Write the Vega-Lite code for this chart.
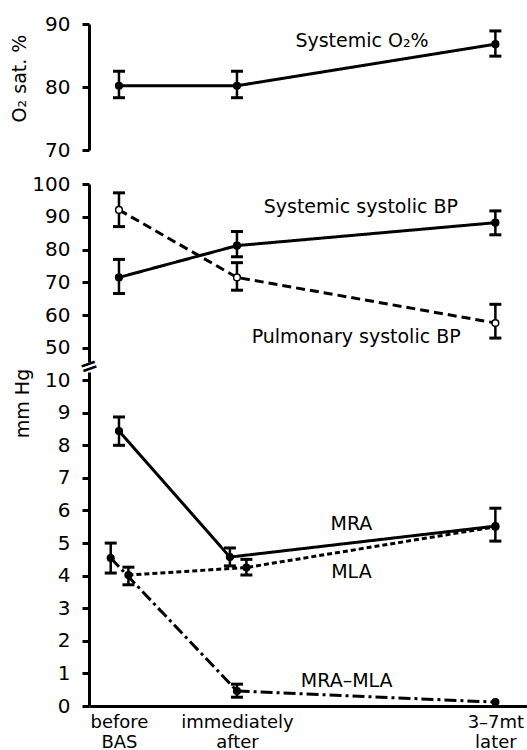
{
  "$schema": "https://vega.github.io/schema/vega-lite/v6.json",
  "padding": {"left": 10, "top": 14, "right": 0, "bottom": 0},
  "background": "white",
  "config": {
    "font": "DejaVu Sans",
    "view": {"stroke": null},
    "axis": {
      "domainColor": "black", "domainWidth": 3, "tickColor": "black", "tickWidth": 3, "tickSize": 7,
      "labelColor": "black", "labelFontSize": 20, "labelFont": "DejaVu Sans", "labelPadding": 12,
      "labelOverlap": false, "labelFlush": false,
      "titleColor": "black", "titleFontSize": 19, "titleFontWeight": "normal", "titleFont": "DejaVu Sans",
      "grid": false
    },
    "text": {"font": "DejaVu Sans", "fontSize": 19, "color": "black"}
  },
  "datasets": {
    "pts": [
      {"panel": "O2", "series": "Systemic O2", "t": 0, "value": 80.2, "lo": 78.3, "hi": 82.5},
      {"panel": "O2", "series": "Systemic O2", "t": 1, "value": 80.2, "lo": 78.3, "hi": 82.5},
      {"panel": "O2", "series": "Systemic O2", "t": 3.19, "value": 86.8, "lo": 84.9, "hi": 88.9},
      {"panel": "BP", "series": "Systemic systolic BP", "t": 0, "value": 71.5, "lo": 66.6, "hi": 77},
      {"panel": "BP", "series": "Systemic systolic BP", "t": 1, "value": 81.2, "lo": 77.8, "hi": 85.5},
      {"panel": "BP", "series": "Systemic systolic BP", "t": 3.19, "value": 88.2, "lo": 84.5, "hi": 91.8},
      {"panel": "BP", "series": "Pulmonary systolic BP", "t": 0, "value": 92.1, "lo": 87, "hi": 97.3},
      {"panel": "BP", "series": "Pulmonary systolic BP", "t": 1, "value": 71.5, "lo": 67.6, "hi": 76},
      {"panel": "BP", "series": "Pulmonary systolic BP", "t": 3.19, "value": 57.6, "lo": 53, "hi": 63.3},
      {"panel": "mmHg", "series": "MRA", "t": 0, "value": 8.44, "lo": 8.0, "hi": 8.87},
      {"panel": "mmHg", "series": "MRA", "t": 0.94, "value": 4.57, "lo": 4.3, "hi": 4.85},
      {"panel": "mmHg", "series": "MRA", "t": 3.19, "value": 5.52, "lo": 5.06, "hi": 6.07},
      {"panel": "mmHg", "series": "MLA", "t": 0.08, "value": 4.02, "lo": 3.72, "hi": 4.26},
      {"panel": "mmHg", "series": "MLA", "t": 1.08, "value": 4.25, "lo": 4.02, "hi": 4.5},
      {"panel": "mmHg", "series": "MLA", "t": 3.19, "value": 5.5, "lo": null, "hi": null},
      {"panel": "mmHg", "series": "MRA-MLA", "t": -0.07, "value": 4.54, "lo": 4.08, "hi": 5.0},
      {"panel": "mmHg", "series": "MRA-MLA", "t": 1.0, "value": 0.46, "lo": 0.27, "hi": 0.67},
      {"panel": "mmHg", "series": "MRA-MLA", "t": 3.19, "value": 0.12, "lo": null, "hi": null}
    ],
    "notes": [
      {"panel": "O2", "label": "Systemic O₂%", "t": 2.06, "value": 86.35},
      {"panel": "BP", "label": "Systemic systolic BP", "t": 2.05, "value": 91.2},
      {"panel": "BP", "label": "Pulmonary systolic BP", "t": 2.01, "value": 51.5},
      {"panel": "mmHg", "label": "MRA", "t": 1.97, "value": 5.4},
      {"panel": "mmHg", "label": "MLA", "t": 1.97, "value": 3.93},
      {"panel": "mmHg", "label": "MRA–MLA", "t": 1.93, "value": 0.58}
    ],
    "breaks": [
      {"label": "=", "t": -0.254, "value": 44.4}
    ]
  },
  "bounds": "flush",
  "spacing": 34,
  "vconcat": [
    {
      "width": 438, "height": 126,
      "layer": [
        {
          "data": {"name": "pts"},
          "transform": [{"filter": "datum.panel == 'O2'"}],
          "mark": {"type": "line", "strokeWidth": 3, "color": "black"},
          "encoding": {
            "x": {"field": "t", "type": "quantitative", "scale": {"domain": [-0.254, 3.458], "nice": false, "zero": false}, "axis": null},
            "y": {"field": "value", "type": "quantitative", "scale": {"domain": [70, 90], "nice": false, "zero": false},
                  "axis": {"values": [70, 80, 90], "title": "O₂ sat. %", "titleX": -70, "titleY": 54, "titleBaseline": "middle", "titleAngle": -90}},
            "strokeDash": {"field": "series", "type": "nominal", "legend": null,
              "scale": {"domain": ["Systemic O2", "Systemic systolic BP", "Pulmonary systolic BP", "MRA", "MLA", "MRA-MLA"],
                        "range": [[1, 0], [1, 0], [9, 5], [1, 0], [5, 3], [12, 4, 3, 4]]}}
          }
        },
        {
          "data": {"name": "pts"},
          "transform": [{"filter": "datum.panel == 'O2' && datum.lo != null"}],
          "mark": {"type": "rule", "strokeWidth": 2.5, "color": "black"},
          "encoding": {
            "x": {"field": "t", "type": "quantitative", "scale": {"domain": [-0.254, 3.458], "nice": false, "zero": false}, "axis": null},
            "y": {"field": "lo", "type": "quantitative",
                  "axis": {"values": [70, 80, 90], "title": "O₂ sat. %", "titleX": -70, "titleY": 54, "titleBaseline": "middle", "titleAngle": -90}},
            "y2": {"field": "hi"}
          }
        },
        {
          "data": {"name": "pts"},
          "transform": [{"filter": "datum.panel == 'O2' && datum.lo != null"}, {"fold": ["lo", "hi"], "as": ["end", "bar"]}],
          "mark": {"type": "tick", "orient": "horizontal", "size": 12, "thickness": 3, "color": "black", "opacity": 1},
          "encoding": {
            "x": {"field": "t", "type": "quantitative", "scale": {"domain": [-0.254, 3.458], "nice": false, "zero": false}, "axis": null},
            "y": {"field": "bar", "type": "quantitative",
                  "axis": {"values": [70, 80, 90], "title": "O₂ sat. %", "titleX": -70, "titleY": 54, "titleBaseline": "middle", "titleAngle": -90}}
          }
        },
        {
          "data": {"name": "pts"},
          "transform": [{"filter": "datum.panel == 'O2'"}],
          "mark": {"type": "point", "shape": "circle", "stroke": "black", "strokeWidth": 1.5, "opacity": 1, "fillOpacity": 1},
          "encoding": {
            "x": {"field": "t", "type": "quantitative", "scale": {"domain": [-0.254, 3.458], "nice": false, "zero": false}, "axis": null},
            "y": {"field": "value", "type": "quantitative",
                  "axis": {"values": [70, 80, 90], "title": "O₂ sat. %", "titleX": -70, "titleY": 54, "titleBaseline": "middle", "titleAngle": -90}},
            "fill": {"field": "series", "type": "nominal", "legend": null,
              "scale": {"domain": ["Systemic O2", "Systemic systolic BP", "Pulmonary systolic BP", "MRA", "MLA", "MRA-MLA"],
                        "range": ["black", "black", "white", "black", "black", "black"]}},
            "size": {"field": "series", "type": "nominal", "legend": null,
              "scale": {"domain": ["Systemic O2", "Systemic systolic BP", "Pulmonary systolic BP", "MRA", "MLA", "MRA-MLA"],
                        "range": [45, 45, 28, 45, 40, 40]}}
          }
        },
        {
          "data": {"name": "notes"},
          "transform": [{"filter": "datum.panel == 'O2'"}],
          "mark": {"type": "text", "align": "center", "baseline": "alphabetic"},
          "encoding": {
            "x": {"field": "t", "type": "quantitative", "scale": {"domain": [-0.254, 3.458], "nice": false, "zero": false}, "axis": null},
            "y": {"field": "value", "type": "quantitative",
                  "axis": {"values": [70, 80, 90], "title": "O₂ sat. %", "titleX": -70, "titleY": 54, "titleBaseline": "middle", "titleAngle": -90}},
            "text": {"field": "label"}
          }
        }
      ]
    },
    {
      "bounds": "flush",
      "spacing": 10,
      "vconcat": [
        {
          "width": 438, "height": 178,
          "layer": [
            {
              "data": {"name": "pts"},
              "transform": [{"filter": "datum.panel == 'BP'"}],
              "mark": {"type": "line", "strokeWidth": 3, "color": "black"},
              "encoding": {
                "x": {"field": "t", "type": "quantitative", "scale": {"domain": [-0.254, 3.458], "nice": false, "zero": false}, "axis": null},
                "y": {"field": "value", "type": "quantitative", "scale": {"domain": [45.7, 100], "nice": false, "zero": false},
                      "axis": {"values": [50, 60, 70, 80, 90, 100], "title": null}},
                "strokeDash": {"field": "series", "type": "nominal", "legend": null,
                  "scale": {"domain": ["Systemic O2", "Systemic systolic BP", "Pulmonary systolic BP", "MRA", "MLA", "MRA-MLA"],
                            "range": [[1, 0], [1, 0], [9, 5], [1, 0], [5, 3], [12, 4, 3, 4]]}}
              }
            },
            {
              "data": {"name": "pts"},
              "transform": [{"filter": "datum.panel == 'BP' && datum.lo != null"}],
              "mark": {"type": "rule", "strokeWidth": 2.5, "color": "black"},
              "encoding": {
                "x": {"field": "t", "type": "quantitative", "scale": {"domain": [-0.254, 3.458], "nice": false, "zero": false}, "axis": null},
                "y": {"field": "lo", "type": "quantitative", "axis": {"values": [50, 60, 70, 80, 90, 100], "title": null}},
                "y2": {"field": "hi"}
              }
            },
            {
              "data": {"name": "pts"},
              "transform": [{"filter": "datum.panel == 'BP' && datum.lo != null"}, {"fold": ["lo", "hi"], "as": ["end", "bar"]}],
              "mark": {"type": "tick", "orient": "horizontal", "size": 12, "thickness": 3, "color": "black", "opacity": 1},
              "encoding": {
                "x": {"field": "t", "type": "quantitative", "scale": {"domain": [-0.254, 3.458], "nice": false, "zero": false}, "axis": null},
                "y": {"field": "bar", "type": "quantitative", "axis": {"values": [50, 60, 70, 80, 90, 100], "title": null}}
              }
            },
            {
              "data": {"name": "pts"},
              "transform": [{"filter": "datum.panel == 'BP'"}],
              "mark": {"type": "point", "shape": "circle", "stroke": "black", "strokeWidth": 1.5, "opacity": 1, "fillOpacity": 1},
              "encoding": {
                "x": {"field": "t", "type": "quantitative", "scale": {"domain": [-0.254, 3.458], "nice": false, "zero": false}, "axis": null},
                "y": {"field": "value", "type": "quantitative", "axis": {"values": [50, 60, 70, 80, 90, 100], "title": null}},
                "fill": {"field": "series", "type": "nominal", "legend": null,
                  "scale": {"domain": ["Systemic O2", "Systemic systolic BP", "Pulmonary systolic BP", "MRA", "MLA", "MRA-MLA"],
                            "range": ["black", "black", "white", "black", "black", "black"]}},
                "size": {"field": "series", "type": "nominal", "legend": null,
                  "scale": {"domain": ["Systemic O2", "Systemic systolic BP", "Pulmonary systolic BP", "MRA", "MLA", "MRA-MLA"],
                            "range": [45, 45, 28, 45, 40, 40]}}
              }
            },
            {
              "data": {"name": "notes"},
              "transform": [{"filter": "datum.panel == 'BP'"}],
              "mark": {"type": "text", "align": "center", "baseline": "alphabetic"},
              "encoding": {
                "x": {"field": "t", "type": "quantitative", "scale": {"domain": [-0.254, 3.458], "nice": false, "zero": false}, "axis": null},
                "y": {"field": "value", "type": "quantitative", "axis": {"values": [50, 60, 70, 80, 90, 100], "title": null}},
                "text": {"field": "label"}
              }
            },
            {
              "data": {"name": "breaks"},
              "mark": {"type": "text", "align": "center", "baseline": "middle", "angle": 340, "fontSize": 22, "fontWeight": "bold"},
              "encoding": {
                "x": {"field": "t", "type": "quantitative", "scale": {"domain": [-0.254, 3.458], "nice": false, "zero": false}, "axis": null},
                "y": {"field": "value", "type": "quantitative", "axis": {"values": [50, 60, 70, 80, 90, 100], "title": null}},
                "text": {"field": "label"}
              }
            }
          ]
        },
        {
          "width": 438, "height": 334,
          "layer": [
            {
              "data": {"name": "pts"},
              "transform": [{"filter": "datum.panel == 'mmHg'"}],
              "mark": {"type": "line", "strokeWidth": 3, "color": "black"},
              "encoding": {
                "x": {"field": "t", "type": "quantitative", "scale": {"domain": [-0.254, 3.458], "nice": false, "zero": false},
                      "axis": {"values": [0, 1, 3.19], "ticks": false, "title": null, "labelFontSize": 18, "labelLineHeight": 20,
                               "labelPadding": 7, "labelBaseline": "top",
                               "labelExpr": "datum.value == 0 ? ['before', 'BAS'] : datum.value == 1 ? ['immediately', 'after'] : ['3–7mt', 'later']"}},
                "y": {"field": "value", "type": "quantitative", "scale": {"domain": [0, 10.25], "nice": false, "zero": false},
                      "axis": {"values": [0, 1, 2, 3, 4, 5, 6, 7, 8, 9, 10], "title": "mm Hg", "titleX": -67, "titleY": 31, "titleBaseline": "middle", "titleAngle": -90}},
                "strokeDash": {"field": "series", "type": "nominal", "legend": null,
                  "scale": {"domain": ["Systemic O2", "Systemic systolic BP", "Pulmonary systolic BP", "MRA", "MLA", "MRA-MLA"],
                            "range": [[1, 0], [1, 0], [9, 5], [1, 0], [5, 3], [12, 4, 3, 4]]}}
              }
            },
            {
              "data": {"name": "pts"},
              "transform": [{"filter": "datum.panel == 'mmHg' && datum.lo != null"}],
              "mark": {"type": "rule", "strokeWidth": 2.5, "color": "black"},
              "encoding": {
                "x": {"field": "t", "type": "quantitative", "scale": {"domain": [-0.254, 3.458], "nice": false, "zero": false},
                      "axis": {"values": [0, 1, 3.19], "ticks": false, "title": null, "labelFontSize": 18, "labelLineHeight": 20,
                               "labelPadding": 7, "labelBaseline": "top",
                               "labelExpr": "datum.value == 0 ? ['before', 'BAS'] : datum.value == 1 ? ['immediately', 'after'] : ['3–7mt', 'later']"}},
                "y": {"field": "lo", "type": "quantitative",
                      "axis": {"values": [0, 1, 2, 3, 4, 5, 6, 7, 8, 9, 10], "title": "mm Hg", "titleX": -67, "titleY": 31, "titleBaseline": "middle", "titleAngle": -90}},
                "y2": {"field": "hi"}
              }
            },
            {
              "data": {"name": "pts"},
              "transform": [{"filter": "datum.panel == 'mmHg' && datum.lo != null"}, {"fold": ["lo", "hi"], "as": ["end", "bar"]}],
              "mark": {"type": "tick", "orient": "horizontal", "size": 12, "thickness": 3, "color": "black", "opacity": 1},
              "encoding": {
                "x": {"field": "t", "type": "quantitative", "scale": {"domain": [-0.254, 3.458], "nice": false, "zero": false},
                      "axis": {"values": [0, 1, 3.19], "ticks": false, "title": null, "labelFontSize": 18, "labelLineHeight": 20,
                               "labelPadding": 7, "labelBaseline": "top",
                               "labelExpr": "datum.value == 0 ? ['before', 'BAS'] : datum.value == 1 ? ['immediately', 'after'] : ['3–7mt', 'later']"}},
                "y": {"field": "bar", "type": "quantitative",
                      "axis": {"values": [0, 1, 2, 3, 4, 5, 6, 7, 8, 9, 10], "title": "mm Hg", "titleX": -67, "titleY": 31, "titleBaseline": "middle", "titleAngle": -90}}
              }
            },
            {
              "data": {"name": "pts"},
              "transform": [{"filter": "datum.panel == 'mmHg'"}],
              "mark": {"type": "point", "shape": "circle", "stroke": "black", "strokeWidth": 1.5, "opacity": 1, "fillOpacity": 1},
              "encoding": {
                "x": {"field": "t", "type": "quantitative", "scale": {"domain": [-0.254, 3.458], "nice": false, "zero": false},
                      "axis": {"values": [0, 1, 3.19], "ticks": false, "title": null, "labelFontSize": 18, "labelLineHeight": 20,
                               "labelPadding": 7, "labelBaseline": "top",
                               "labelExpr": "datum.value == 0 ? ['before', 'BAS'] : datum.value == 1 ? ['immediately', 'after'] : ['3–7mt', 'later']"}},
                "y": {"field": "value", "type": "quantitative",
                      "axis": {"values": [0, 1, 2, 3, 4, 5, 6, 7, 8, 9, 10], "title": "mm Hg", "titleX": -67, "titleY": 31, "titleBaseline": "middle", "titleAngle": -90}},
                "fill": {"field": "series", "type": "nominal", "legend": null,
                  "scale": {"domain": ["Systemic O2", "Systemic systolic BP", "Pulmonary systolic BP", "MRA", "MLA", "MRA-MLA"],
                            "range": ["black", "black", "white", "black", "black", "black"]}},
                "size": {"field": "series", "type": "nominal", "legend": null,
                  "scale": {"domain": ["Systemic O2", "Systemic systolic BP", "Pulmonary systolic BP", "MRA", "MLA", "MRA-MLA"],
                            "range": [45, 45, 28, 45, 40, 40]}}
              }
            },
            {
              "data": {"name": "notes"},
              "transform": [{"filter": "datum.panel == 'mmHg'"}],
              "mark": {"type": "text", "align": "center", "baseline": "alphabetic"},
              "encoding": {
                "x": {"field": "t", "type": "quantitative", "scale": {"domain": [-0.254, 3.458], "nice": false, "zero": false},
                      "axis": {"values": [0, 1, 3.19], "ticks": false, "title": null, "labelFontSize": 18, "labelLineHeight": 20,
                               "labelPadding": 7, "labelBaseline": "top",
                               "labelExpr": "datum.value == 0 ? ['before', 'BAS'] : datum.value == 1 ? ['immediately', 'after'] : ['3–7mt', 'later']"}},
                "y": {"field": "value", "type": "quantitative",
                      "axis": {"values": [0, 1, 2, 3, 4, 5, 6, 7, 8, 9, 10], "title": "mm Hg", "titleX": -67, "titleY": 31, "titleBaseline": "middle", "titleAngle": -90}},
                "text": {"field": "label"}
              }
            }
          ]
        }
      ]
    }
  ]
}
